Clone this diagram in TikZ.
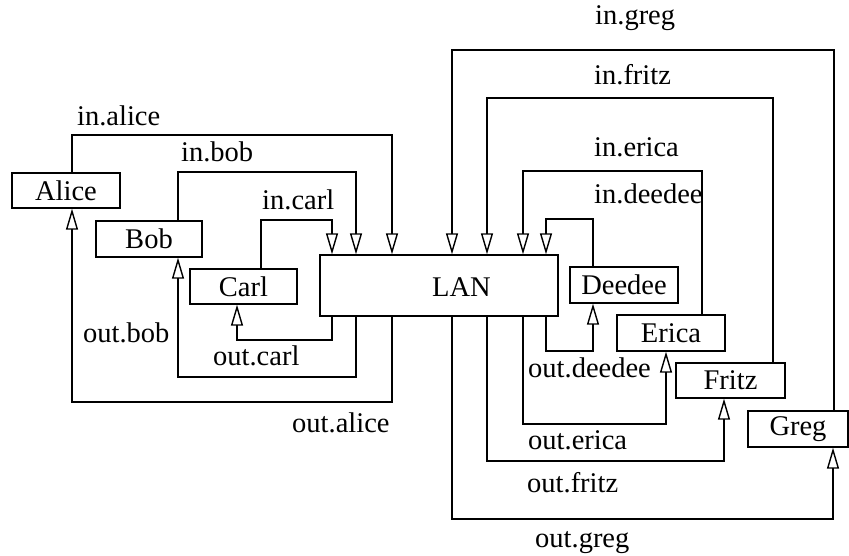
\documentclass[tikz,border=0pt]{standalone}
\usepackage{fontspec}
\setmainfont{Liberation Serif}
\usetikzlibrary{arrows.meta}
\begin{document}
\begin{tikzpicture}[x=1pt,y=-1pt,
  box/.style={draw,line width=1.4pt,inner sep=0pt,font=\fontsize{28.5}{32}\selectfont},
  lbl/.style={anchor=base west,inner sep=0pt,font=\fontsize{28.5}{32}\selectfont},
  wire/.style={line width=1.4pt},
  arr/.style={wire,-{Triangle[open,length=21pt,width=12pt,line width=1.4pt]}}]
\useasboundingbox (0,0) rectangle (849,556);
% boxes: centre at (x,y), size w x h
\node[box,minimum width=108,minimum height=35] (Alice) at (66,190.5) {Alice};
\node[box,minimum width=106,minimum height=36] (Bob) at (149,239) {Bob};
\node[box,minimum width=107,minimum height=35] (Carl) at (243.5,286.5) {Carl};
\node[box,minimum width=238,minimum height=61] (LAN) at (439,285.5) {};
\node[lbl] (LANtext) at (432,297) {LAN};
\node[box,minimum width=108,minimum height=36] (Deedee) at (624,285) {Deedee};
\node[box,minimum width=108,minimum height=36] (Erica) at (671,333) {Erica};
\node[box,minimum width=109,minimum height=35] (Fritz) at (730.5,380.5) {Fritz};
\node[box,minimum width=100,minimum height=36] (Greg) at (798,429) {Greg};
% bend coordinates
\coordinate (ia) at (392,135);
\coordinate (ib) at (356,172);
\coordinate (ic) at (332,220);
\coordinate (oa) at (72,402);
\coordinate (ob) at (178,377);
\coordinate (oc) at (237,340);
\coordinate (id) at (546,219);
\coordinate (ie) at (523,171);
\coordinate (if) at (487,98);
\coordinate (ig) at (452,50);
\coordinate (od) at (593,351);
\coordinate (oe) at (666,424);
\coordinate (of) at (724,461);
\coordinate (og) at (833,519);
% left side: inputs
\draw[arr] (72,0 |- Alice.north) |- (ia) -- (ia |- LAN.north);
\draw[arr] (178,0 |- Bob.north) |- (ib) -- (ib |- LAN.north);
\draw[arr] (261,0 |- Carl.north) |- (ic) -- (ic |- LAN.north);
% left side: outputs
\draw[arr] (392,0 |- LAN.south) |- (oa) -- (oa |- Alice.south);
\draw[arr] (356,0 |- LAN.south) |- (ob) -- (ob |- Bob.south);
\draw[arr] (332,0 |- LAN.south) |- (oc) -- (oc |- Carl.south);
% right side: inputs
\draw[arr] (593,0 |- Deedee.north) |- (id) -- (id |- LAN.north);
\draw[arr] (702,0 |- Erica.north) |- (ie) -- (ie |- LAN.north);
\draw[arr] (773,0 |- Fritz.north) |- (if) -- (if |- LAN.north);
\draw[arr] (834,0 |- Greg.north) |- (ig) -- (ig |- LAN.north);
% right side: outputs
\draw[arr] (546,0 |- LAN.south) |- (od) -- (od |- Deedee.south);
\draw[arr] (523,0 |- LAN.south) |- (oe) -- (oe |- Erica.south);
\draw[arr] (487,0 |- LAN.south) |- (of) -- (of |- Fritz.south);
\draw[arr] (452,0 |- LAN.south) |- (og) -- (og |- Greg.south);
% labels
\node[lbl] (lia) at (77,126) {in.alice};
\node[lbl] (lib) at (181,162) {in.bob};
\node[lbl] (lic) at (262,210) {in.carl};
\node[lbl] (lob) at (83,342) {out.bob};
\node[lbl] (loc) at (213,365) {out.carl};
\node[lbl] (loa) at (292,432) {out.alice};
\node[lbl] (lig) at (595,25) {in.greg};
\node[lbl] (lif) at (594,85) {in.fritz};
\node[lbl] (lie) at (594,157) {in.erica};
\node[lbl] (lid) at (594,204) {in.deedee};
\node[lbl] (lod) at (528,377) {out.deedee};
\node[lbl] (loe) at (528,449) {out.erica};
\node[lbl] (lof) at (527,492) {out.fritz};
\node[lbl] (log) at (535,547) {out.greg};
\end{tikzpicture}
\end{document}
